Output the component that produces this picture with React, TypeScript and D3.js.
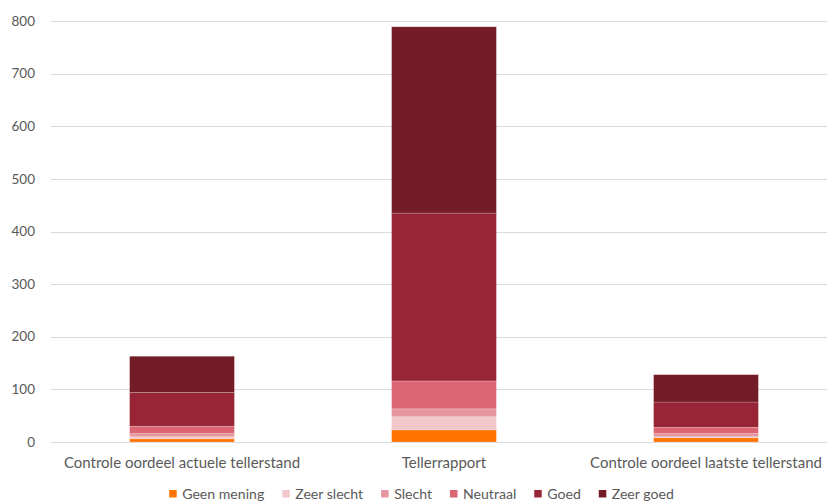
import React, { useEffect, useRef } from "react";
import * as d3 from "d3";

const categories = [
  "Controle oordeel actuele tellerstand",
  "Tellerrapport",
  "Controle oordeel laatste tellerstand",
];
const seriesNames = ["Geen mening", "Zeer slecht", "Slecht", "Neutraal", "Goed", "Zeer goed"];
const geenMening = [6, 23, 8];
const zeerSlecht = [4, 25, 2];
const slecht = [6, 15, 6];
const neutraal = [14, 53, 12];
const goed = [64, 319, 48];
const zeerGoed = [69, 354, 52];
const seriesColors = ["#FF7400", "#F3C8CD", "#E7959E", "#DC6574", "#982535", "#741B28"];
const yTicks = [0, 100, 200, 300, 400, 500, 600, 700, 800];

const W = 827;
const H = 501;
const FONT = "Lato, 'Open Sans', sans-serif";

export default function App() {
  const ref = useRef<SVGSVGElement | null>(null);

  useEffect(() => {
    const svg = d3.select(ref.current);
    svg.selectAll("*").remove();

    const seriesValues = [geenMening, zeerSlecht, slecht, neutraal, goed, zeerGoed];
    const rows = categories.map((c, i) => {
      const r: any = { cat: c };
      seriesNames.forEach((s, k) => (r[s] = seriesValues[k][i]));
      return r;
    });
    const stacked = d3.stack().keys(seriesNames)(rows);

    const y = d3.scaleLinear().domain([0, 800]).range([442, 21]);
    const x = d3.scaleBand().domain(categories).range([51, 837]).paddingInner(0).paddingOuter(0);
    const barW = x.bandwidth() * 0.4;

    // gridlines
    svg
      .append("g")
      .selectAll("line")
      .data(yTicks)
      .join("line")
      .attr("x1", 51)
      .attr("x2", W)
      .attr("y1", (d) => Math.round(y(d)) + 0.5)
      .attr("y2", (d) => Math.round(y(d)) + 0.5)
      .attr("stroke", "#D9D9D9")
      .attr("stroke-width", 1);

    // tick labels
    svg
      .append("g")
      .selectAll("text")
      .data(yTicks)
      .join("text")
      .attr("x", 35)
      .attr("y", (d) => y(d) + 4.7)
      .attr("text-anchor", "end")
      .attr("font-family", FONT)
      .attr("font-size", 13.5)
      .attr("fill", "#595959")
      .text((d) => String(d));

    // bars
    const g = svg.append("g");
    stacked.forEach((layer, k) => {
      g.append("g")
        .attr("fill", seriesColors[k])
        .selectAll("rect")
        .data(layer)
        .join("rect")
        .attr("x", (d: any) => (x(d.data.cat) as number) + x.bandwidth() / 2 - barW / 2)
        .attr("width", barW)
        .attr("y", (d: any) => y(d[1]))
        .attr("height", (d: any) => y(d[0]) - y(d[1]))
        .attr("stroke", "rgba(255,255,255,0.35)")
        .attr("stroke-width", 0.6);
    });

    // category labels
    svg
      .append("g")
      .selectAll("text")
      .data(categories)
      .join("text")
      .attr("x", (d) => (x(d) as number) + x.bandwidth() / 2)
      .attr("y", 468)
      .attr("text-anchor", "middle")
      .attr("font-family", FONT)
      .attr("font-size", 15)
      .attr("fill", "#595959")
      .text((d) => d);

    // legend
    const lg = svg.append("g");
    const items = lg
      .selectAll("g")
      .data(seriesNames)
      .join("g");
    items
      .append("rect")
      .attr("width", 7.5)
      .attr("height", 7.5)
      .attr("y", 490)
      .attr("fill", (_d, i) => seriesColors[i]);
    const texts = items
      .append("text")
      .attr("x", 13)
      .attr("y", 499)
      .attr("font-family", FONT)
      .attr("font-size", 14.1)
      .attr("fill", "#595959")
      .text((d) => d);
    const widths: number[] = [];
    texts.each(function () {
      widths.push((this as SVGTextElement).getComputedTextLength());
    });
    const gap = 18;
    const itemW = widths.map((w) => 13 + w);
    const total = d3.sum(itemW) + gap * (itemW.length - 1);
    let cx = 421.5 - total / 2;
    items.attr("transform", (_d, i) => {
      const t = `translate(${cx},0)`;
      cx += itemW[i] + gap;
      return t;
    });
  }, []);

  return (
    <svg
      ref={ref}
      width={W}
      height={H}
      style={{ position: "absolute", left: 0, top: 0, background: "#fff" }}
    />
  );
}
